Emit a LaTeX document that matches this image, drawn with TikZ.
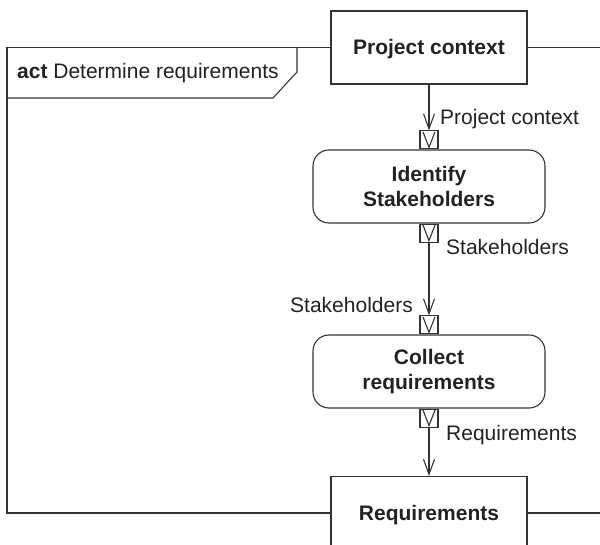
\documentclass[tikz,border=0pt]{standalone}
\usepackage{fontspec}
\setmainfont{Liberation Sans}
\usetikzlibrary{arrows.meta}
\definecolor{ink}{HTML}{333333}
\definecolor{txt}{HTML}{222222}
\tikzset{
  base/.style={draw=ink, line width=1.1pt},
  objbox/.style={base, rectangle, minimum width=196pt, minimum height=73pt, inner sep=0pt,
    font=\fontsize{21pt}{25pt}\selectfont\bfseries, text=txt, text height=15pt, text depth=0pt},
  actbox/.style={base, rectangle, rounded corners=16pt, minimum width=232pt, minimum height=73pt,
    inner sep=0pt, align=center, font=\fontsize{21pt}{25pt}\selectfont\bfseries, text=txt},
  pinbox/.style={base, rectangle, minimum size=18pt, inner sep=0pt},
  lbl/.style={inner sep=0pt, font=\fontsize{21pt}{25pt}\selectfont, text=txt},
  flow/.style={base, -{Straight Barb[length=15pt, width=11pt, line width=1.1pt]}},
}
\newcommand{\pinvee}[1]{\draw[base] ([xshift=-6pt,yshift=-1.5pt]#1.north) -- ([yshift=2pt]#1.south) -- ([xshift=6pt,yshift=-1.5pt]#1.north);}
\begin{document}
\begin{tikzpicture}[x=1pt, y=-1pt]
\useasboundingbox (0,0) rectangle (600,545);
\clip (0,0) rectangle (600,545);
% boxes
\node[objbox] (pc) at (429,47.5) {Project context};
\node[objbox] (rq) at (429,513) {Requirements};
\node[actbox] (ids) at (429,186.5) {Identify\\Stakeholders};
\node[actbox] (col) at (429,371.5) {Collect\\requirements};
% pins
\node[pinbox, anchor=south] (p1) at (ids.north) {};
\node[pinbox, anchor=north] (p2) at (ids.south) {};
\node[pinbox, anchor=south] (p3) at (col.north) {};
\node[pinbox, anchor=north] (p4) at (col.south) {};
\pinvee{p1}
\pinvee{p2}
\pinvee{p3}
\pinvee{p4}
% flows
\draw[flow] (pc.south) -- (p1.north);
\draw[flow] (p2.south) -- (p3.north);
\draw[flow] (p4.south) -- (rq.north);
% frame
\coordinate (ftl) at (7,47.5);
\coordinate (fbl) at (7,513);
\coordinate (ftr) at (610,47.5);
\coordinate (fbr) at (610,513);
\draw[base] (pc.west) -- (ftl) -- (fbl) -- (rq.west);
\draw[base] (pc.east) -- (ftr);
\draw[base] (rq.east) -- (fbr);
\coordinate (t1) at (297,47.5);
\coordinate (t2) at (297,72);
\coordinate (t3) at (273,98);
\coordinate (t4) at (7,98);
\draw[base] (t1) -- (t2) -- (t3) -- (t4);
\node[lbl, anchor=base west] (title) at (17,79) {\textbf{act} Determine requirements};
% labels
\node[lbl, anchor=base west] (l1) at (440,125) {Project context};
\node[lbl, anchor=base west] (l2) at (446,255) {Stakeholders};
\node[lbl, anchor=base east] (l3) at (413,313) {Stakeholders};
\node[lbl, anchor=base west] (l4) at (446,440) {Requirements};
\end{tikzpicture}
\end{document}
